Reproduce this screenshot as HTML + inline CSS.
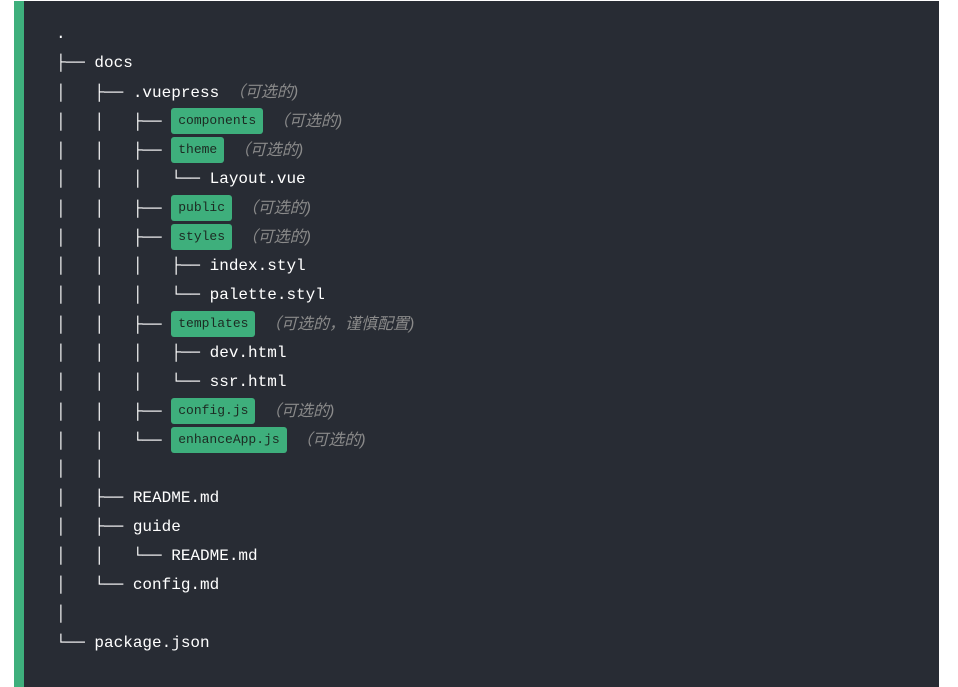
<!DOCTYPE html>
<html><head><meta charset="utf-8"><style>
html,body{margin:0;padding:0;background:#fff;width:958px;height:687px;overflow:hidden}
.panel{position:absolute;left:14px;top:1px;width:925px;height:686px;background:#282c34;border-left:10px solid #3eaf7c;box-sizing:border-box}
.t{position:absolute;left:56px;top:20px;font-family:"Liberation Mono","DejaVu Sans Mono",monospace;font-size:16px;color:#fff}
.t div{height:29px;line-height:29px;white-space:pre}
.b{display:inline-block;background:#3eaf7c;color:#1c2a22;font-size:13px;line-height:26px;height:26px;padding:0 7px;border-radius:3px;vertical-align:top;margin-top:1px}
.c{color:#8a8a8a;font-style:italic;font-family:"Liberation Sans","Noto Sans CJK SC",sans-serif;font-size:16px}
</style></head><body>
<div class="panel"></div>
<div class="t">
<div>.</div>
<div>├── docs</div>
<div>│   ├── .vuepress <span class="c">（可选的)</span></div>
<div>│   │   ├── <span class="b">components</span> <span class="c">（可选的)</span></div>
<div>│   │   ├── <span class="b">theme</span> <span class="c">（可选的)</span></div>
<div>│   │   │   └── Layout.vue</div>
<div>│   │   ├── <span class="b">public</span> <span class="c">（可选的)</span></div>
<div>│   │   ├── <span class="b">styles</span> <span class="c">（可选的)</span></div>
<div>│   │   │   ├── index.styl</div>
<div>│   │   │   └── palette.styl</div>
<div>│   │   ├── <span class="b">templates</span> <span class="c">（可选的，谨慎配置)</span></div>
<div>│   │   │   ├── dev.html</div>
<div>│   │   │   └── ssr.html</div>
<div>│   │   ├── <span class="b">config.js</span> <span class="c">（可选的)</span></div>
<div>│   │   └── <span class="b">enhanceApp.js</span> <span class="c">（可选的)</span></div>
<div>│   │</div>
<div>│   ├── README.md</div>
<div>│   ├── guide</div>
<div>│   │   └── README.md</div>
<div>│   └── config.md</div>
<div>│</div>
<div>└── package.json</div>
</div>
</body></html>
